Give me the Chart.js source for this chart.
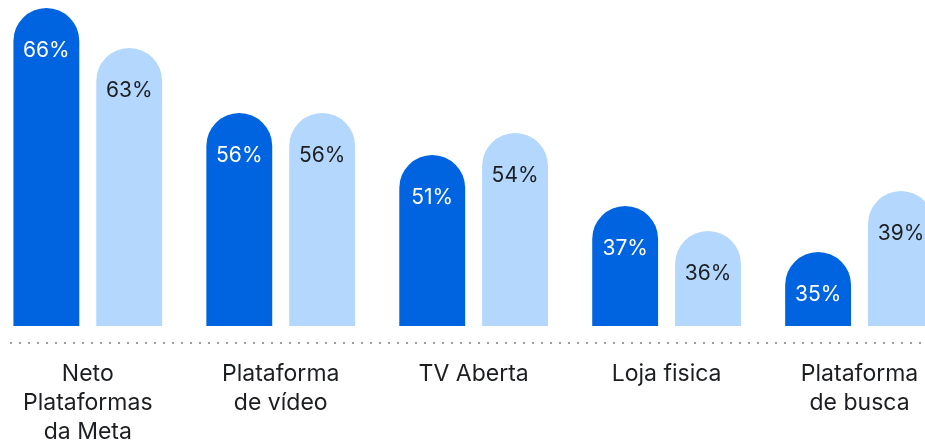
<!DOCTYPE html>
<html>
<head>
<meta charset="utf-8">
<script src="https://cdn.jsdelivr.net/npm/chart.js@4"></script>
<style>
  html, body { margin: 0; padding: 0; background: #fff; overflow: hidden; }
  body { width: 925px; height: 441px; position: relative; }
  #wrap { position: absolute; left: -11px; top: 0; width: 967px; height: 481px; }
</style>
</head>
<body>
<div id="wrap"><canvas id="chart"></canvas></div>
<script>
const categorias = [
  ["Neto", "Plataformas", "da Meta"],
  ["Plataforma", "de vídeo"],
  ["TV Aberta"],
  ["Loja fisica"],
  ["Plataforma", "de busca"]
];
// percentages printed on the bars
const rotulosA = ["66%", "56%", "51%", "37%", "35%"];
const rotulosB = ["63%", "56%", "54%", "36%", "39%"];
// bar lengths as drawn in the picture (not proportional to the labels)
const alturaA = [318, 213, 171, 120, 74];
const alturaB = [278, 213, 193, 95, 135];

const azulEscuro = "#0064e0";
const azulClaro = "#b3d7fd";
const fonte = "Inter, 'Noto Sans', sans-serif";

// dotted baseline under the bars
const linhaPontilhada = {
  id: "linhaPontilhada",
  afterDraw(chart) {
    const ctx = chart.ctx;
    const y = chart.chartArea.bottom + 17;
    ctx.save();
    ctx.strokeStyle = "#9a9ea3";
    ctx.lineWidth = 2;
    ctx.setLineDash([2, 7]);
    ctx.beginPath();
    ctx.moveTo(21, y);
    ctx.lineTo(chart.width, y);
    ctx.stroke();
    ctx.restore();
  }
};

// percent text inside each bar
const rotulosBarras = {
  id: "rotulosBarras",
  afterDatasetsDraw(chart) {
    const ctx = chart.ctx;
    ctx.save();
    ctx.font = "21px " + fonte;
    ctx.textAlign = "center";
    ctx.textBaseline = "middle";
    chart.data.datasets.forEach((ds, i) => {
      chart.getDatasetMeta(i).data.forEach((bar, j) => {
        ctx.fillStyle = i === 0 ? "#ffffff" : "#1c1e21";
        ctx.fillText(ds.rotulos[j], bar.x, bar.y + 43);
      });
    });
    ctx.restore();
  }
};

new Chart(document.getElementById("chart"), {
  type: "bar",
  data: {
    labels: categorias,
    datasets: [
      {
        data: alturaA,
        rotulos: rotulosA,
        backgroundColor: azulEscuro,
        borderRadius: { topLeft: 33, topRight: 33 },
        borderSkipped: "start"
      },
      {
        data: alturaB,
        rotulos: rotulosB,
        backgroundColor: azulClaro,
        borderRadius: { topLeft: 33, topRight: 33 },
        borderSkipped: "start"
      }
    ]
  },
  options: {
    responsive: true,
    maintainAspectRatio: false,
    animation: false,
    categoryPercentage: 0.859,
    barPercentage: 0.795,
    layout: { padding: 0 },
    plugins: {
      legend: { display: false },
      tooltip: { enabled: false }
    },
    scales: {
      x: {
        grid: { display: false, drawTicks: false },
        border: { display: false },
        ticks: {
          padding: 34,
          color: "#1c1e21",
          font: { family: fonte, size: 23, lineHeight: "29px" },
          maxRotation: 0,
          autoSkip: false
        }
      },
      y: {
        display: false,
        min: 0,
        max: 326
      }
    }
  },
  plugins: [linhaPontilhada, rotulosBarras]
});
</script>
</body>
</html>
